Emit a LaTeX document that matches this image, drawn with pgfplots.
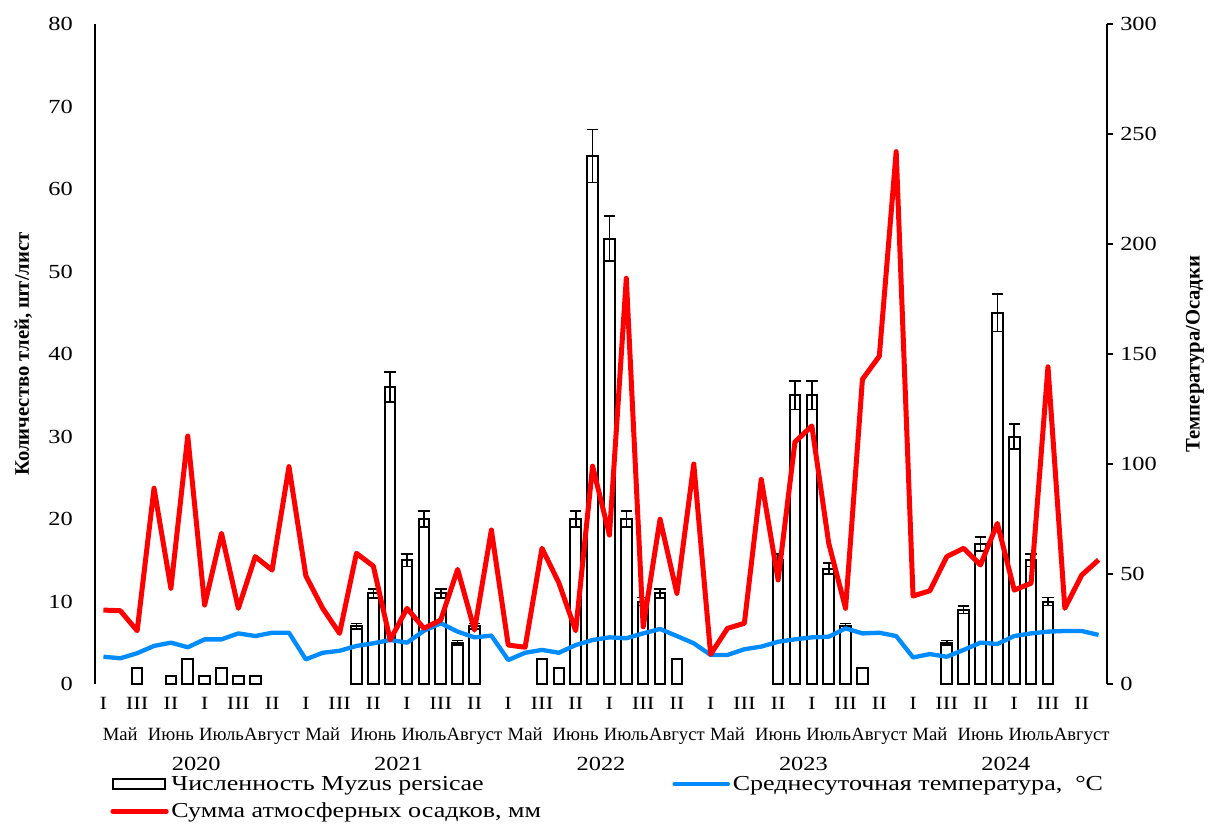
\documentclass[border=0pt]{standalone}
\usepackage{fontspec}
\setmainfont{Liberation Serif}
\newfontfamily\numfont{Liberation Serif}[FakeStretch=1.22]
\newfontfamily\legfont{Liberation Serif}[FakeStretch=1.22]
\usepackage{pgfplots}
\usepackage{pgfplotstable}
\pgfplotsset{compat=1.18}

\definecolor{precipred}{HTML}{FF0000}
\definecolor{tempblue}{HTML}{008CFF}

% decade index i: 0..59 = May I ... August III, 2020-2024
\pgfplotstableread{
i  n   err
15 7   0.35
16 11  0.55
17 36  1.8
18 15  0.75
19 20  1.0
20 11  0.55
21 5   0.25
22 7   0.35
28 20  1.0
29 64  3.2
30 54  2.7
31 20  1.0
32 10  0.5
33 11  0.55
40 15  0.75
41 35  1.75
42 35  1.75
43 14  0.7
44 7   0.35
50 5   0.25
51 9   0.45
52 17  0.85
53 45  2.25
54 30  1.5
55 15  0.75
56 10  0.5
}\aphids

\pgfplotstableread{
i  n
2  2
4  1
5  3
6  1
7  2
8  1
9  1
26 3
27 2
34 3
45 2
}\aphidsmall

\pgfplotstableread{
i  t     p
0  12.4  33.6
1  11.7  33.3
2  14.0  24.2
3  17.3  89.0
4  18.8  43.5
5  16.7  112.7
6  20.3  35.9
7  20.3  68.5
8  23.0  34.4
9  21.8  57.9
10 23.3  51.8
11 23.3  98.8
12 11.2  49.2
13 14.2  34.4
14 15.1  23.0
15 17.3  59.4
16 18.5  53.6
17 20.0  20.0
18 18.8  34.4
19 24.2  25.3
20 27.6  29.1
21 23.8  52.1
22 21.2  24.5
23 22.0  70.0
24 10.9  17.7
25 14.2  16.7
26 15.5  61.7
27 14.2  46.0
28 17.7  24.2
29 20.0  99.0
30 21.2  67.7
31 20.8  184.4
32 23.0  26.0
33 25.0  74.9
34 21.8  41.2
35 18.5  100.0
36 13.2  13.5
37 13.2  25.3
38 15.8  27.6
39 17.0  93.0
40 19.2  47.3
41 20.3  110.0
42 21.2  117.3
43 21.5  64.0
44 25.3  34.4
45 23.0  138.5
46 23.3  149.0
47 21.8  242.0
48 12.1  40.0
49 13.6  42.4
50 12.4  57.9
51 15.5  61.7
52 18.8  54.1
53 18.2  73.0
54 21.8  42.7
55 23.0  45.8
56 23.8  144.2
57 24.1  34.4
58 24.1  49.5
59 22.3  56.4
}\weather

\begin{document}
\begin{tikzpicture}
\path[use as bounding box] (0pt,0pt) rectangle (909pt,618.75pt);
\pgfplotsset{
  chart/.style={
    at={(71.25pt,105.75pt)}, anchor=south west,
    scale only axis, width=759pt, height=495pt,
    xmin=-0.5, xmax=59.5, clip=false,
    /pgf/number format/assume math mode=true,
    tick label style={font=\numfont\fontsize{15}{17}\selectfont},
  }
}
\begin{axis}[chart,
  ymin=0, ymax=80, ytick={0,10,...,80},
  axis y line*=left, axis x line*=bottom,
  x axis line style={draw=none},
  y axis line style={line width=1.5pt},
  major tick length=0pt,
  xtick={0,2,...,58},
  xticklabels={I,III,II,I,III,II,I,III,II,I,III,II,I,III,II,I,III,II,I,III,II,I,III,II,I,III,II,I,III,II},
  xticklabel style={anchor=base, inner sep=0pt, yshift=-18.75pt, font=\numfont\fontsize{14}{16}\selectfont},
  yticklabel style={anchor=east, inner sep=0pt, xshift=-16.5pt},
  ylabel={Количество тлей, шт/лист},
  ylabel style={at={(axis description cs:-0.0707,0.5)}, anchor=center, font=\bfseries\fontsize{15.5}{17}\selectfont},
]
\addplot[ybar, bar width=0.63, bar shift=0pt, draw=black, fill=white, line width=1.5pt,
  error bars/.cd, y dir=both, y explicit,
  error bar style={line width=1.2pt, black},
  error mark options={rotate=90, line width=1.2pt, black, mark size=4.3pt}]
  table[x=i, y=n, y error=err] {\aphids};
\addplot[ybar, bar width=0.63, bar shift=0pt, draw=black, fill=white, line width=1.5pt]
  table[x=i, y=n] {\aphidsmall};
\end{axis}

\begin{axis}[chart,
  ymin=0, ymax=300, ytick={0,50,...,300},
  axis y line*=right, axis x line=none,
  y axis line style={line width=1.5pt},
  ytick style={line width=1.2pt, black},
  tick align=outside, major tick length=4.5pt,
  yticklabel style={anchor=west, inner sep=0pt, xshift=5.25pt},
  ylabel={Температура/Осадки},
  ylabel style={at={(axis description cs:1.087,0.5)}, anchor=center, font=\bfseries\fontsize{15.5}{17}\selectfont},
  legend columns=2,
  legend cell align=left,
  legend style={at={(axis description cs:0.011,-0.131)}, anchor=north west, draw=none, fill=none,
    font=\legfont\fontsize{16}{18}\selectfont, row sep=4pt,
    /tikz/every even column/.append style={column sep=96.5pt}},
  legend image code/.code={\draw[#1, line cap=round] (0pt,0pt) -- (40pt,0pt);},
]
\addlegendimage{legend image code/.code={\draw[black, line width=1.5pt, fill=white] (0pt,-4pt) rectangle (39pt,4pt);}}
\addlegendentry{Численность Myzus persicae}
\addplot[tempblue, line width=3.25pt, line join=round] table[x=i, y=t] {\weather};
\addlegendentry{Среднесуточная температура,\ \ °C}
\addplot[precipred, line width=3.75pt, line join=round] table[x=i, y=p] {\weather};
\addlegendentry{Сумма атмосферных осадков, мм}
\end{axis}

\foreach \yr/\lab in {0/2020,1/2021,2/2022,3/2023,4/2024}{
  \foreach \m/\mon in {0/Май,1/Июнь,2/Июль,3/Август}{
    \node[anchor=base, inner sep=0pt, font=\fontsize{14}{16}\selectfont]
      at ({71.25pt+12.65pt*(12*\yr+3*\m+1.5)}, 63.75pt) {\mon};
  }
  \node[anchor=base, inner sep=0pt, font=\numfont\fontsize{15}{17}\selectfont]
    at ({71.25pt+12.65pt*(12*\yr+6)}, 41.25pt) {\lab};
}
\end{tikzpicture}
\end{document}
